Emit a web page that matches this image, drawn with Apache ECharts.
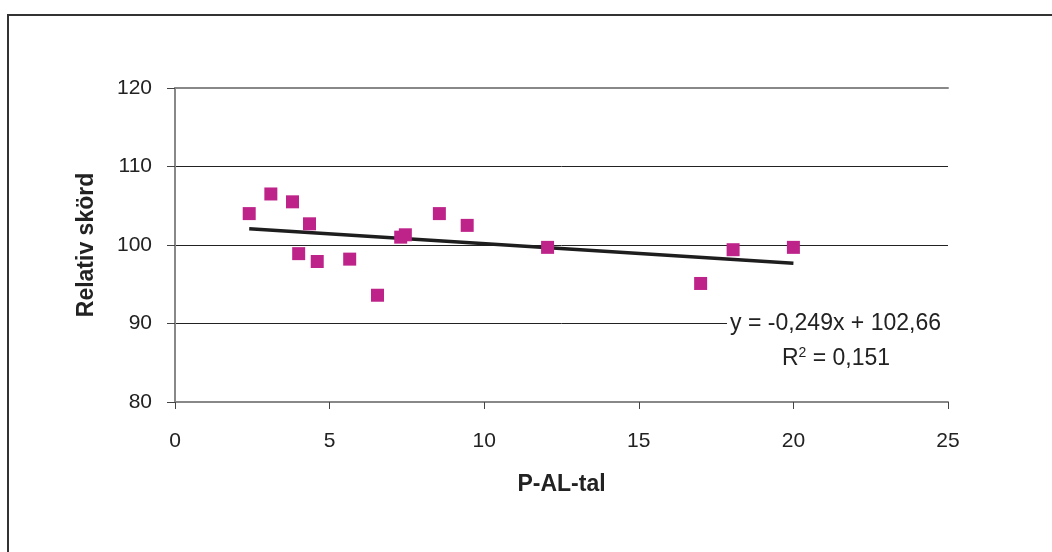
<!DOCTYPE html>
<html>
<head>
<meta charset="utf-8">
<script src="https://cdn.jsdelivr.net/npm/echarts@6/dist/echarts.min.js"></script>
<style>
html,body{margin:0;padding:0;background:#fff;}
#frame{position:absolute;left:7px;top:14px;width:1060px;height:560px;border:2px solid #333;box-sizing:border-box;}
#chart{position:absolute;left:0;top:0;width:1052px;height:552px;}
</style>
</head>
<body>
<div id="frame"></div>
<div id="chart"></div>
<script>
// P-AL-tal (x) values
var pAlTal = [2.4, 3.1, 3.8, 4.35, 4.0, 4.6, 5.65, 6.55, 7.3, 7.45, 8.55, 9.45, 12.05, 17.0, 18.05, 20.0];
// Relativ skörd (y) values
var relativSkord = [104.0, 106.5, 105.5, 102.7, 98.9, 97.9, 98.2, 93.6, 101.0, 101.3, 104.0, 102.5, 99.7, 95.1, 99.4, 99.7];
// Trend line endpoints (linear trend shown in chart)
var trendX = [2.4, 20.0];
var trendY = [102.06, 97.68];
var xTicks = [0, 5, 10, 15, 20, 25];
var yTicks = [80, 90, 100, 110, 120];
var eqLine1 = 'y = -0,249x + 102,66';
var eqLine2 = '0,151';

var points = pAlTal.map(function(x, i){ return [x, relativSkord[i]]; });
var trend = trendX.map(function(x, i){ return [x, trendY[i]]; });

var chart = echarts.init(document.getElementById('chart'), null, {renderer:'canvas'});
var font = 'Liberation Sans, Arial, sans-serif';
chart.setOption({
  animation: false,
  backgroundColor: 'transparent',
  grid: {left: 175, right: 104, top: 88, bottom: 150},
  xAxis: [{
    type: 'value', min: xTicks[0], max: xTicks[xTicks.length-1], interval: 5,
    name: 'P-AL-tal', nameLocation: 'middle', nameGap: 71,
    nameTextStyle: {fontFamily: font, fontSize: 23, fontWeight: 'bold', color: '#222', verticalAlign: 'top'},
    axisLine: {show: true, onZero: false, lineStyle: {color: '#888', width: 2}},
    axisTick: {show: true, inside: false, length: 7, lineStyle: {color: '#444', width: 1}},
    axisLabel: {fontFamily: font, fontSize: 21, color: '#222', margin: 29},
    splitLine: {show: false}
  }, {
    type: 'value', position: 'top', min: xTicks[0], max: xTicks[xTicks.length-1], interval: 5,
    axisLine: {show: true, onZero: false, lineStyle: {color: '#888', width: 2}},
    axisTick: {show: false}, axisLabel: {show: false}, splitLine: {show: false}
  }],
  yAxis: {
    type: 'value', min: yTicks[0], max: yTicks[yTicks.length-1], interval: 10,
    name: 'Relativ skörd', nameLocation: 'middle', nameGap: 77, nameRotate: 90,
    nameTextStyle: {fontFamily: font, fontSize: 23, fontWeight: 'bold', color: '#222'},
    axisLine: {show: true, lineStyle: {color: '#888', width: 2}},
    axisTick: {show: true, inside: false, length: 8, lineStyle: {color: '#444', width: 1}},
    axisLabel: {fontFamily: font, fontSize: 21, color: '#222', margin: 23},
    splitLine: {show: true, lineStyle: {color: '#222', width: 1}}
  },
  series: [{
    type: 'line', data: trend, symbol: 'none', z: 3,
    lineStyle: {color: '#1e1e1e', width: 3.5}
  }, {
    type: 'scatter', data: points, symbol: 'rect', symbolSize: 13, z: 4,
    itemStyle: {color: '#BE2389', opacity: 1}
  }],
  graphic: [{
    type: 'text', z: 10,
    x: 838, y: 324,
    style: {
      text: eqLine1, textAlign: 'center', textVerticalAlign: 'middle',
      font: '23px ' + font, fill: '#222', backgroundColor: '#fff', padding: [2, 8, 2, 3]
    }
  }, {
    type: 'text', z: 10,
    x: 836, y: 359,
    style: {
      text: '{a|R}{s|2}{a| = ' + eqLine2 + '}', textAlign: 'center', textVerticalAlign: 'middle',
      rich: {
        a: {fontFamily: font, fontSize: 23, fill: '#222', color: '#222'},
        s: {fontFamily: font, fontSize: 14, fill: '#222', color: '#222', verticalAlign: 'top', padding: [0, 0, 12, 0]}
      }
    }
  }]
});
</script>
</body>
</html>
